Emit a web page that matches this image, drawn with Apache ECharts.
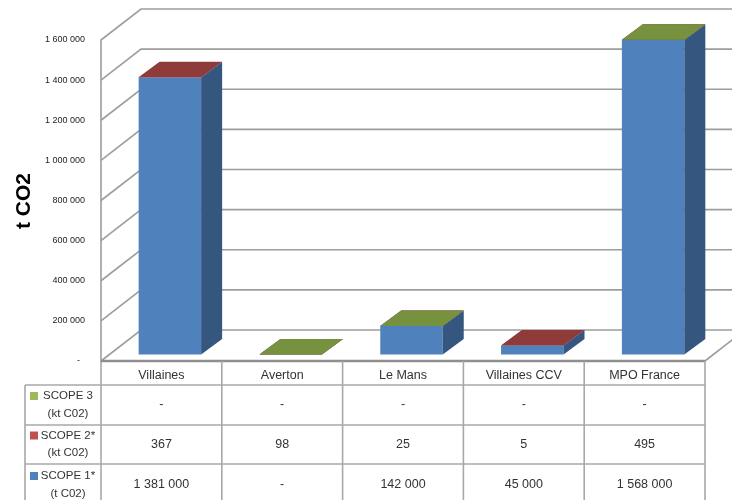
<!DOCTYPE html>
<html><head><meta charset="utf-8">
<script src="https://cdn.jsdelivr.net/npm/echarts@6/dist/echarts.min.js"></script>
<style>html,body{margin:0;padding:0;background:#fff}#c{width:732px;height:500px}</style>
</head><body><div id="c"></div>
<script>
// ---- data ----
const categories = ['Villaines', 'Averton', 'Le Mans', 'Villaines CCV', 'MPO France'];
const scope1 = [1381000, 0, 142000, 45000, 1568000];   // t CO2
const scope2 = [367, 98, 25, 5, 495];                  // kt CO2
const scope3 = [null, 0, 0, null, 0];                  // kt CO2 (shown as "-")
const seriesLabels = [['SCOPE 1*', '(t C02)'], ['SCOPE 2*', '(kt C02)'], ['SCOPE 3', '(kt C02)']];
const yTicks = [0, 200000, 400000, 600000, 800000, 1000000, 1200000, 1400000, 1600000];
const yTitle = 't CO2';

// ---- style ----
const palette = [
  {front: '#4F81BD', side: '#34567F', top: '#5A8AC4', key: '#4F81BD'},
  {front: '#C0504D', side: '#7E3432', top: '#8F3B3A', key: '#C0504D'},
  {front: '#9BBB59', side: '#67803A', top: '#77923F', key: '#9BBB59'}
];
const WALL = [40, -31], BAR_FRONT = [8.5, -6.5], BAR_DEPTH = [21, -15.5], BAR_RATIO = 0.517;
const GRID_COLOR = '#9d9d9d', TABLE_COLOR = '#a8a8a8';
const FONT = '"Liberation Sans", Arial, sans-serif';
const allSeries = [scope1, scope2, scope3];

function fmt(v) {
  if (v == null || v === 0) return '-';
  return String(v).replace(/\B(?=(\d{3})+(?!\d))/g, ' ');
}

function renderWall(params, api) {
  const cs = params.coordSys;
  const L = cs.x, R = cs.x + cs.width;
  const v = api.value(1);
  const y = api.coord([0, v])[1];
  const st = {stroke: GRID_COLOR, lineWidth: 1.6, fill: null};
  const ch = [{type: 'polyline', shape: {points: [[L, y], [L + WALL[0], y + WALL[1]], [R + WALL[0], y + WALL[1]]]}, style: st}];
  if (v === yTicks[0]) {
    ch.push({type: 'line', shape: {x1: R, y1: y, x2: R + WALL[0], y2: y + WALL[1]}, style: st});
  }
  return {type: 'group', children: ch};
}

function renderBars(params, api) {
  const i = api.value(0);
  const bw = api.size([1, 0])[0] * BAR_RATIO;
  const cx = api.coord([i, 0])[0];
  const x0 = cx - bw / 2 + BAR_FRONT[0], x1 = x0 + bw;
  const dx = BAR_DEPTH[0], dy = BAR_DEPTH[1];
  const ch = [];
  let cum = 0;
  for (let s = 0; s < allSeries.length; s++) {
    const raw = allSeries[s][i];
    if (raw == null) continue;
    const yb = api.coord([i, cum])[1] + BAR_FRONT[1];
    cum += raw;
    const yt = api.coord([i, cum])[1] + BAR_FRONT[1];
    const p = palette[s];
    ch.push({type: 'polygon', shape: {points: [[x0, yb], [x1, yb], [x1, yt], [x0, yt]]}, style: {fill: p.front}});
    ch.push({type: 'polygon', shape: {points: [[x1, yb], [x1 + dx, yb + dy], [x1 + dx, yt + dy], [x1, yt]]}, style: {fill: p.side}});
    ch.push({type: 'polygon', shape: {points: [[x0, yt], [x1, yt], [x1 + dx, yt + dy], [x0 + dx, yt + dy]]}, style: {fill: p.top}});
  }
  return {type: 'group', children: ch};
}

const ROWS = [0, 24, 64, 103, 145]; // offsets below the floor edge
function renderTable(params, api) {
  const cs = params.coordSys;
  const i = api.value(0);
  const bwFull = api.size([1, 0])[0];
  const cx = api.coord([i, 0])[0];
  const cL = cx - bwFull / 2, cR = cx + bwFull / 2;
  const top = cs.y + cs.height;
  const ch = [];
  const ls = {stroke: TABLE_COLOR, lineWidth: 1.6};
  ch.push({type: 'line', shape: {x1: cL, y1: top, x2: cL, y2: top + ROWS[4]}, style: ls});
  if (i === categories.length - 1) ch.push({type: 'line', shape: {x1: cR, y1: top, x2: cR, y2: top + ROWS[4]}, style: ls});
  const tf = {fontFamily: FONT, fontSize: 12.5, fill: '#333', align: 'center', verticalAlign: 'middle'};
  ch.push({type: 'text', style: Object.assign({}, tf, {text: categories[i], x: cx, y: top + 15})});
  // rows: scope3, scope2, scope1
  for (let r = 0; r < 3; r++) {
    const s = 2 - r;
    const yc = top + (ROWS[r + 1] + ROWS[r + 2]) / 2;
    ch.push({type: 'text', style: Object.assign({}, tf, {text: fmt(allSeries[s][i]), x: cx, y: yc})});
  }
  if (i === 0) {
    const LX = 25, R = cs.x + cs.width;
    for (let r = 1; r <= 3; r++) {
      ch.push({type: 'line', shape: {x1: LX, y1: top + ROWS[r], x2: R, y2: top + ROWS[r]}, style: ls});
    }
    ch.push({type: 'line', shape: {x1: LX, y1: top + ROWS[1], x2: LX, y2: top + ROWS[4]}, style: ls});
    for (let r = 0; r < 3; r++) {
      const s = 2 - r;
      const yc = top + (ROWS[r + 1] + ROWS[r + 2]) / 2;
      ch.push({type: 'rect', shape: {x: LX + 5, y: yc - 13, width: 8, height: 8}, style: {fill: palette[s].key}});
      ch.push({type: 'text', style: {text: seriesLabels[s].join('\n'), x: LX + 43, y: yc, fontFamily: FONT, fontSize: 11.5,
        lineHeight: 17.5, fill: '#333', align: 'center', verticalAlign: 'middle'}});
    }
    ch.push({type: 'line', shape: {x1: cs.x, y1: top, x2: R, y2: top}, style: {stroke: '#8f8f8f', lineWidth: 2.5}});
  }
  return {type: 'group', children: ch};
}

const chart = echarts.init(document.getElementById('c'), null, {renderer: 'canvas'});
chart.setOption({
  backgroundColor: '#fff',
  animation: false,
  grid: {left: 101, right: 27, top: 40, bottom: 139},
  xAxis: {type: 'category', data: categories, axisLabel: {show: false}, axisLine: {show: false}, axisTick: {show: false}},
  yAxis: {
    type: 'value', min: yTicks[0], max: yTicks[yTicks.length - 1], interval: yTicks[1] - yTicks[0],
    splitLine: {show: false}, axisTick: {show: false},
    axisLine: {show: true, lineStyle: {color: GRID_COLOR, width: 1.6}},
    axisLabel: {margin: 16, fontSize: 9, fontFamily: FONT, color: '#222',
      formatter: v => v === 0 ? '-  ' : fmt(v)}
  },
  graphic: [{type: 'text', x: 24, y: 201, rotation: Math.PI / 2,
    style: {text: yTitle, fontFamily: FONT, fontSize: 21, fontWeight: 'bold', fill: '#000', align: 'center', verticalAlign: 'middle'}}],
  series: [
    {type: 'custom', name: 'walls', clip: false, z: 1, renderItem: renderWall, encode: {x: 0, y: 1},
      data: yTicks.map(v => [0, v]), silent: true},
    {type: 'custom', name: 'bars', clip: false, z: 2, renderItem: renderBars, encode: {x: 0, y: 1},
      data: categories.map((c, i) => [i, scope1[i]]), silent: true},
    {type: 'custom', name: 'table', clip: false, z: 3, renderItem: renderTable, encode: {x: 0, y: 1},
      data: categories.map((c, i) => [i, 0]), silent: true}
  ]
});
</script></body></html>
